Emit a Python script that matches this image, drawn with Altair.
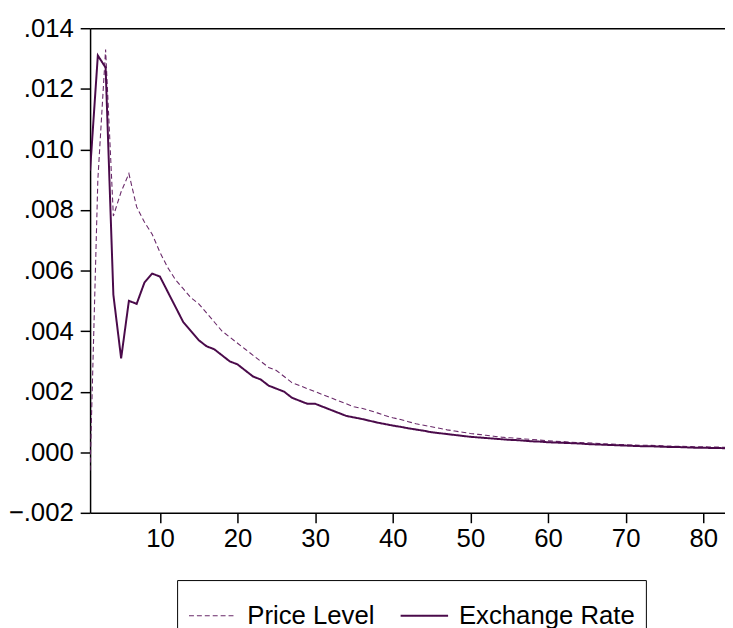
import altair as alt
import pandas as pd

periods = list(range(1, 84))

price_level = [
    -0.0006, 0.0090, 0.0133, 0.0078, 0.0086, 0.0092, 0.0081, 0.0076, 0.0072, 0.0066,
    0.0061, 0.0057, 0.0054, 0.0051, 0.0049, 0.0046, 0.0043, 0.0040, 0.0038, 0.0036,
    0.0034, 0.0032, 0.0030, 0.0028, 0.0027, 0.0025, 0.0023, 0.0022, 0.0021, 0.0020,
    0.0019, 0.0018, 0.0017, 0.0016, 0.0015, 0.00145, 0.00138, 0.0013, 0.00121, 0.00114,
    0.00108, 0.00101, 0.00094, 0.00089, 0.00084, 0.00079, 0.00074, 0.00070, 0.00066, 0.00062,
    0.00059, 0.00056, 0.00053, 0.00050, 0.00048, 0.00046, 0.00044, 0.00042, 0.00040, 0.00038,
    0.00036, 0.00035, 0.00033, 0.00032, 0.00031, 0.00030, 0.00028, 0.00027, 0.00026, 0.00025,
    0.00024, 0.00023, 0.00023, 0.00022, 0.00021, 0.00020, 0.00020, 0.00019, 0.00018, 0.00018,
    0.00017, 0.00017, 0.00016,
]

exchange_rate = [
    0.0093, 0.0131, 0.0127, 0.0052, 0.0031, 0.0050, 0.0049, 0.0056, 0.0059, 0.0058,
    0.0053, 0.0048, 0.0043, 0.0040, 0.0037, 0.0035, 0.0034, 0.0032, 0.0030, 0.0029,
    0.0027, 0.0025, 0.0024, 0.0022, 0.0021, 0.0020, 0.0018, 0.0017, 0.0016, 0.0016,
    0.0015, 0.0014, 0.0013, 0.0012, 0.00115, 0.0011, 0.00104, 0.00098, 0.00093, 0.00088,
    0.00084, 0.00079, 0.00075, 0.00071, 0.00066, 0.00063, 0.00060, 0.00057, 0.00054, 0.00051,
    0.00049, 0.00047, 0.00045, 0.00043, 0.00041, 0.00040, 0.00038, 0.00036, 0.00035, 0.00033,
    0.00032, 0.00031, 0.00030, 0.00029, 0.00027, 0.00026, 0.00025, 0.00024, 0.00023, 0.00022,
    0.00021, 0.00020, 0.00020, 0.00019, 0.00018, 0.00017, 0.00017, 0.00016, 0.00015, 0.00015,
    0.00014, 0.00014, 0.00013,
]

series_names = ["Price Level", "Exchange Rate"]
series_colors = ["#6a2a6a", "#4a0a4a"]
series_dashes = [[5, 3], [1, 0]]
series_widths = [1.1, 2.0]

y_ticks = [-0.002, 0.0, 0.002, 0.004, 0.006, 0.008, 0.010, 0.012, 0.014]
x_ticks = [10, 20, 30, 40, 50, 60, 70, 80]

df = pd.DataFrame({
    "period": periods + periods,
    "value": price_level + exchange_rate,
    "series": [series_names[0]] * len(periods) + [series_names[1]] * len(periods),
})

FONT = "Liberation Sans"

x_scale = alt.Scale(domain=[1, 82.8], nice=False, zero=False)
y_scale = alt.Scale(domain=[-0.002, 0.014], nice=False, zero=False)

legend = alt.Legend(
    orient="none",
    legendX=88,
    legendY=558,
    direction="horizontal",
    title=None,
    symbolType="stroke",
    symbolSize=2304,
    labelFontSize=26,
    labelFont=FONT,
    labelColor="black",
    labelOffset=10,
    labelLimit=400,
    columnPadding=22,
    padding=11,
    strokeColor="black",
    fillColor="white",
)

lines = alt.Chart(df).mark_line(clip=True).encode(
    x=alt.X(
        "period:Q",
        scale=x_scale,
        axis=alt.Axis(values=x_ticks, title=None, format="d", labelPadding=3,
                      labelFlush=False, labelOverlap=False),
    ),
    y=alt.Y(
        "value:Q",
        scale=y_scale,
        axis=alt.Axis(values=y_ticks, title=None, labelPadding=7, labelFlush=False,
                      labelOverlap=False,
                      labelExpr="replace(format(datum.value, '.3f'), '0.', '.')"),
    ),
    color=alt.Color("series:N", scale=alt.Scale(domain=series_names, range=series_colors), legend=legend),
    strokeDash=alt.StrokeDash("series:N", scale=alt.Scale(domain=series_names, range=series_dashes), legend=legend),
    strokeWidth=alt.StrokeWidth("series:N", scale=alt.Scale(domain=series_names, range=series_widths), legend=legend),
    order=alt.Order("period:Q"),
)

# invisible layer that only carries the top frame line (as a top x axis)
frame_top = alt.Chart(df).mark_point(opacity=0, clip=True).encode(
    x=alt.X(
        "period:Q",
        scale=x_scale,
        axis=alt.Axis(orient="top", title=None, labels=False, ticks=False, domain=True),
    ),
    y=alt.Y("value:Q", scale=y_scale),
)

chart = alt.layer(lines, frame_top).resolve_axis(
    x="independent"
).properties(
    width=642,
    height=490,
    background="white",
    padding={"left": 83, "top": 17, "right": 0, "bottom": 113},
    autosize=alt.AutoSizeParams(type="none"),
).configure_view(
    strokeWidth=0,
).configure_axis(
    grid=False,
    domainColor="black",
    domainWidth=1.5,
    tickColor="black",
    tickWidth=1.5,
    tickSize=10,
    labelFont=FONT,
    labelFontSize=26,
    labelColor="black",
)

chart.save("out.html", embed_options={"renderer": "svg", "actions": False})
